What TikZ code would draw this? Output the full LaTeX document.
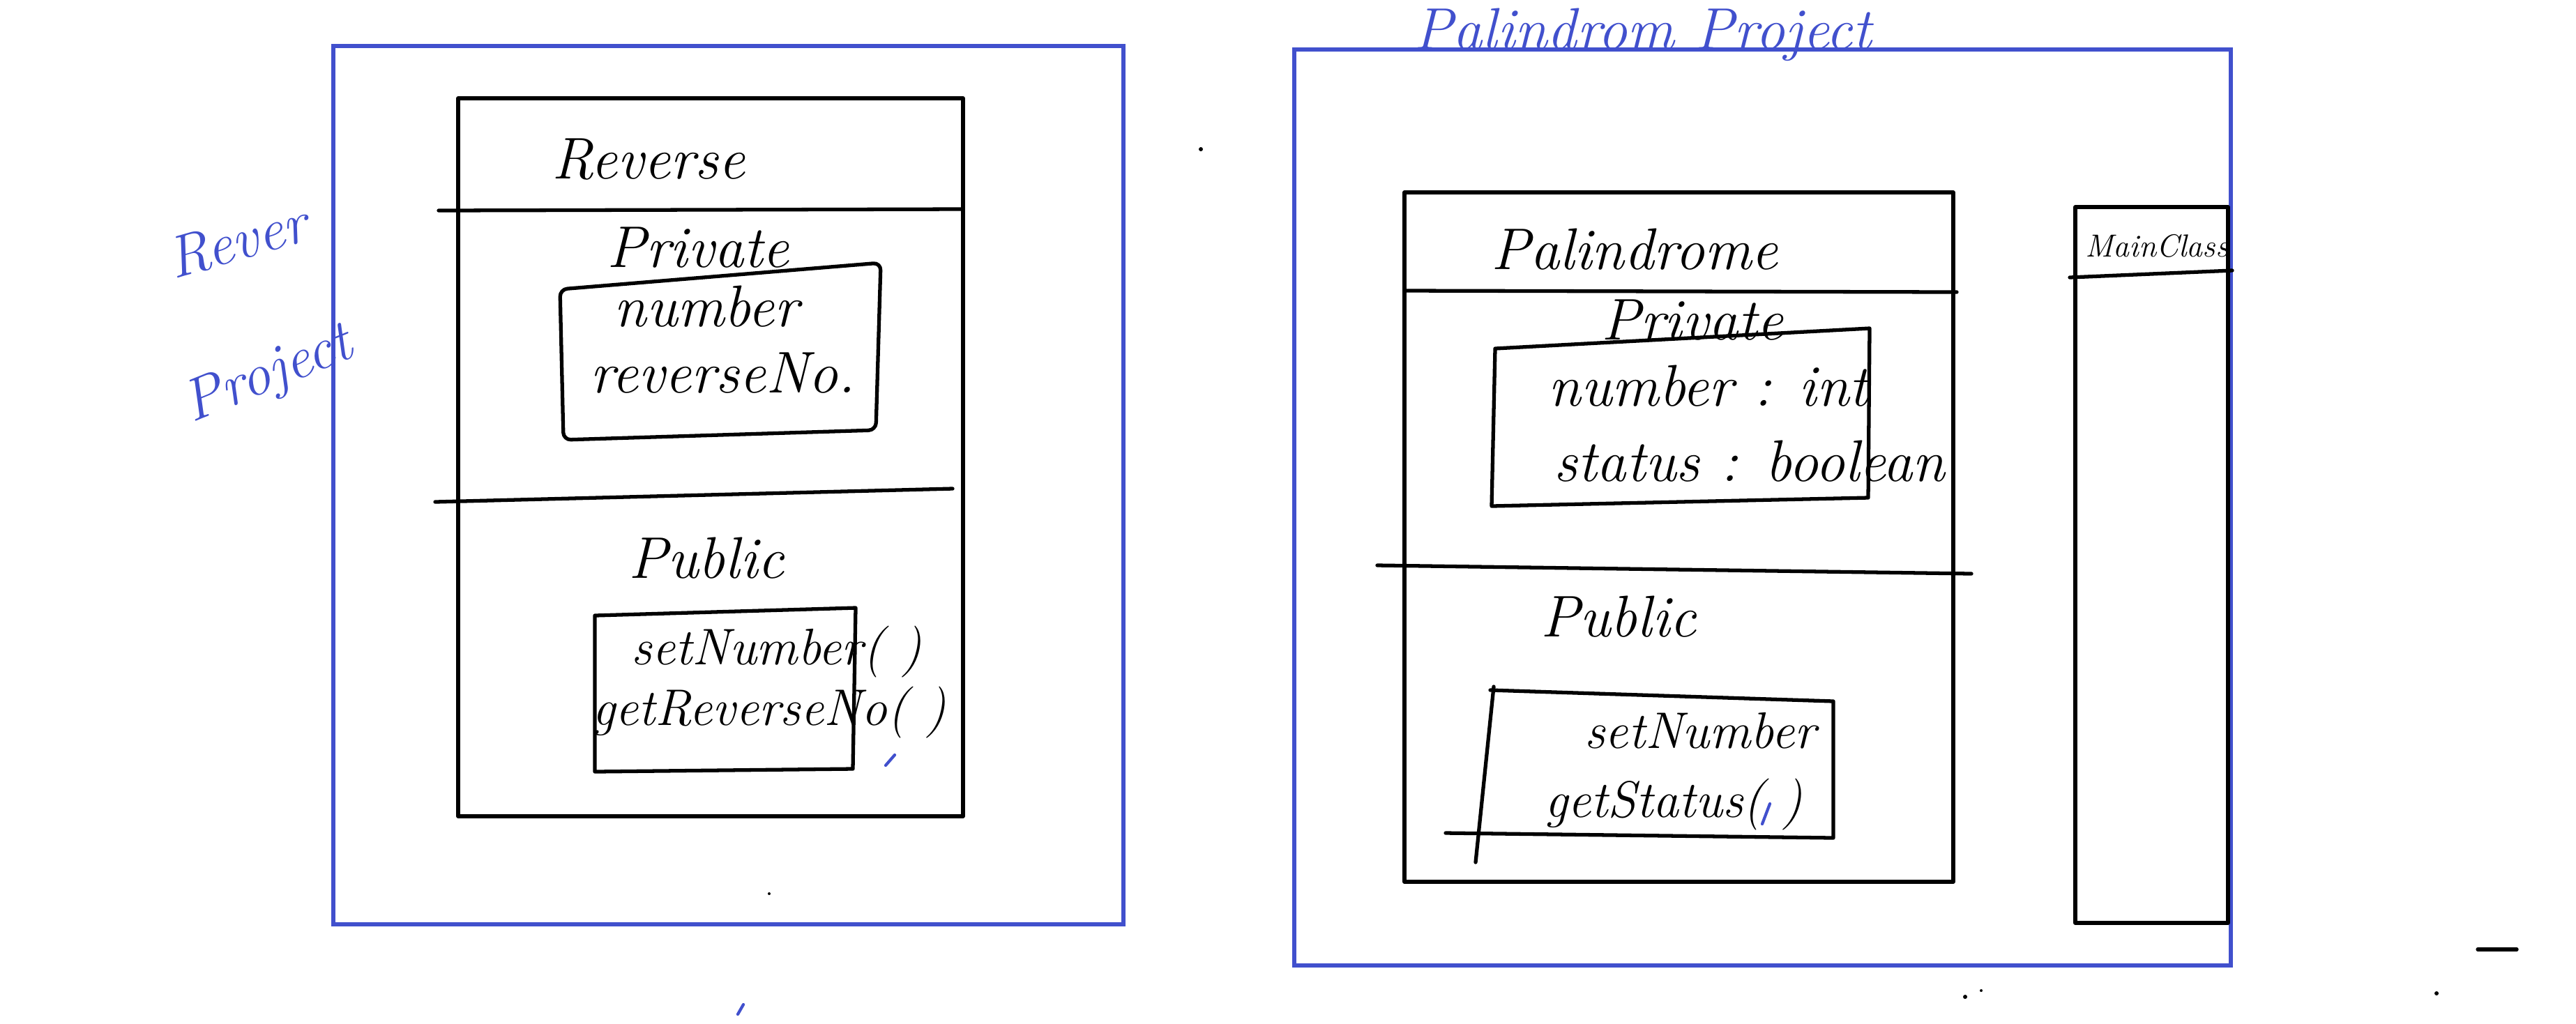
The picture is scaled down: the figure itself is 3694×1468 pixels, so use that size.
\documentclass[tikz,border=0pt]{standalone}
\usepackage{tikz}
\usepackage{xcolor}
\definecolor{pen}{HTML}{4150CD}
\tikzset{
  ink/.style={line width=1.5pt, line join=round, line cap=round},
  projbox/.style={draw=pen, line width=1.5pt},
  hand/.style={font=\fontsize{24}{28}\selectfont\itshape, inner sep=0pt},
  projtxt/.style={font=\fontsize{24}{28}\selectfont\itshape, text=pen, inner sep=0pt},
}

\begin{document}
\begin{tikzpicture}[x=0.01cm,y=-0.01cm]
\useasboundingbox (0,0) rectangle (3694,1468);
% project frames
\draw[projbox] (478,66) rectangle (1611,1326);
\draw[projbox] (1856,71) rectangle (3199,1385);
\node[projtxt,anchor=base] (palproj) at (2356,70) {Palindrom Project};
\node[projtxt,rotate=16] (revproj1) at (340,345) {Rever};
\node[projtxt,rotate=22] (revproj2) at (385,540) {Project};

% Reverse class
\draw[ink] (657,141) rectangle (1381,1171);
\draw[ink] (629,302) -- (1381,300);
\draw[ink] (624,720) -- (1366,701);
\node[hand] (revtitle) at (930,229) {Reverse};
\node[hand] (revpriv) at (1001,355) {Private};
\draw[ink,rounded corners=3pt] (803,415) -- (1263,377) -- (1256,617) -- (808,631) -- cycle;
\node[hand] (revnum) at (1013,440) {number};
\node[hand] (revno) at (1037,535) {reverseNo.};
\node[hand] (revpub) at (1013,801) {Public};
\draw[ink] (853,883) -- (1227,872) -- (1223,1103) -- (853,1107) -- cycle;
\node[hand,font=\fontsize{21}{24}\selectfont\itshape] (revset) at (1114,935) {setNumber( )};
\node[hand,font=\fontsize{21}{24}\selectfont\itshape] (revget) at (1103,1022) {getReverseNo( )};

% Palindrome class
\draw[ink] (2014,276) rectangle (2801,1265);
\draw[ink] (2014,417) -- (2806,419);
\draw[ink] (1975,811) -- (2827,823);
\node[hand] (paltitle) at (2344,358) {Palindrome};
\node[hand] (palpriv) at (2427,459) {Private};
\draw[ink] (2144,500) -- (2681,471) -- (2679,714) -- (2139,726) -- cycle;
\node[hand] (palnum) at (2450,554) {number : int};
\node[hand] (palstat) at (2509,662) {status : boolean};
\node[hand] (palpub) at (2321,885) {Public};
\draw[ink] (2137,990) -- (2629,1006) -- (2629,1202) -- (2073,1195);
\draw[ink] (2142,985) -- (2116,1237);
\node[hand,font=\fontsize{21}{24}\selectfont\itshape] (palset) at (2438,1048) {setNumber};
\node[hand,font=\fontsize{21}{24}\selectfont\itshape] (palget) at (2400,1154) {getStatus( )};

% Main class
\draw[ink] (2976,297) rectangle (3195,1324);
\draw[ink] (2968,398) -- (3201,388);
\node[hand,font=\fontsize{13}{15}\selectfont\itshape] (maintitle) at (3093,353) {MainClass};

% stray marks
\fill (1722,214) circle (3);
\fill (1103,1282) circle (2);
\fill (2818,1430) circle (3);
\fill (2841,1421) circle (2);
\fill (3494,1425) circle (3);
\draw[ink] (3553,1362) -- (3609,1362);
\draw[pen,line width=1.2pt,line cap=round] (1270,1098) -- (1283,1083);
\draw[pen,line width=1.2pt,line cap=round] (1058,1455) -- (1066,1441);
\draw[pen,line width=1.2pt,line cap=round] (2527,1182) -- (2538,1153);
\end{tikzpicture}
\end{document}
